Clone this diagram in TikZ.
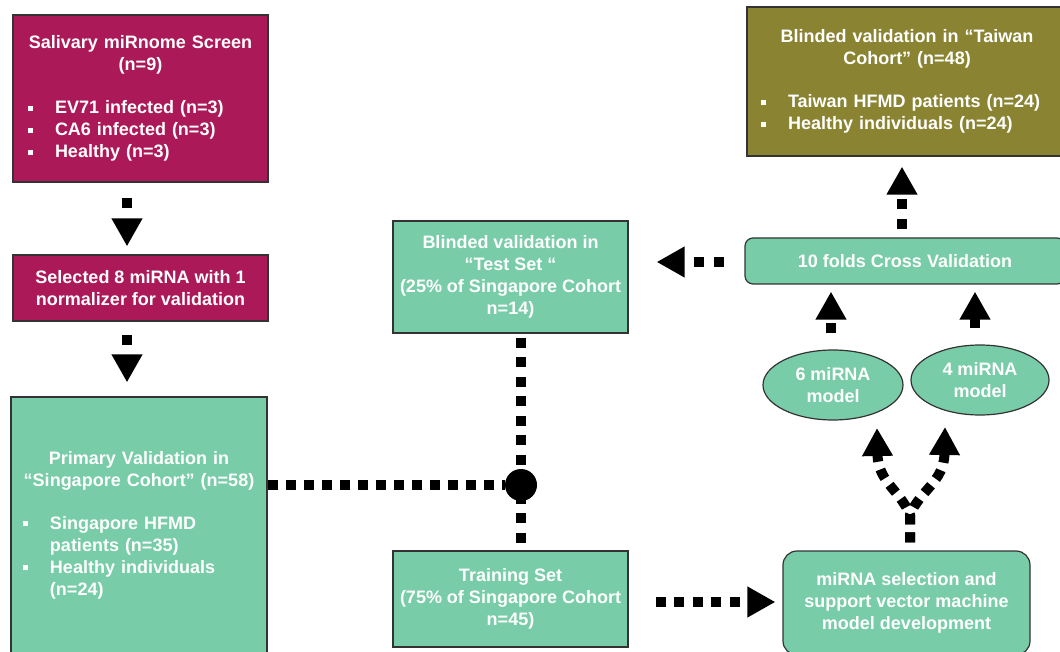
\documentclass[tikz,border=0pt]{standalone}
\usepackage{fontspec}
\setmainfont{Liberation Sans}
\usetikzlibrary{arrows.meta,shapes.geometric,calc}
\definecolor{magbox}{RGB}{172,25,88}
\definecolor{tealbox}{RGB}{120,204,168}
\definecolor{olivebox}{RGB}{138,132,50}
\newcommand\bitem[1]{\par\parskip=0pt\noindent\hangindent=27pt\hangafter=1\makebox[27pt][l]{\rule[3pt]{5pt}{5pt}}#1\par}
\newcommand\boxhead[1]{\parskip=0pt\parindent=0pt{\centering #1\par}\vspace{21pt}}
\begin{document}
\begin{tikzpicture}[x=1pt,y=-1pt,
  box/.style={draw=black!80, line width=1.2pt, text=white,
    font=\fontsize{18}{22}\selectfont\bfseries, inner sep=0pt, anchor=center},
  dotarrow/.style={line width=10pt, dash pattern=on 10pt off 8pt,
    -{Triangle[length=28pt,width=29pt]}},
  dotline/.style={line width=10pt, dash pattern=on 10pt off 8pt}]
\useasboundingbox (0,0) rectangle (1060,652);

% boxes
\node[box, fill=magbox, minimum width=255pt, minimum height=167pt, text width=225pt, align=left]
  (sal) at (140.5,98.5) {\boxhead{Salivary miRnome Screen\\(n=9)}\bitem{EV71 infected (n=3)}\bitem{CA6 infected (n=3)}\bitem{Healthy (n=3)}};
\node[box, fill=magbox, minimum width=255pt, minimum height=66pt, align=center]
  (sel) at (140.5,288) {Selected 8 miRNA with 1\\normalizer for validation};
\node[box, fill=tealbox, minimum width=256pt, minimum height=256pt, text width=232pt, align=left]
  (pri) at (139,525) {\boxhead{Primary Validation in\\“Singapore Cohort” (n=58)}\bitem{Singapore HFMD\break patients (n=35)}\bitem{Healthy individuals\break (n=24)}};
\node[box, fill=tealbox, minimum width=235pt, minimum height=112pt, align=center]
  (test) at (510.5,277) {Blinded validation in\\“Test Set “\\(25\% of Singapore Cohort\\n=14)};
\node[box, fill=tealbox, minimum width=235pt, minimum height=96pt, align=center]
  (train) at (510.5,599) {Training Set\\(75\% of Singapore Cohort\\n=45)};
\node[box, fill=tealbox, rounded corners=14pt, minimum width=247pt, minimum height=104pt, align=center]
  (svm) at (906.5,603) {miRNA selection and\\support vector machine\\model development};
\node[box, fill=tealbox, rounded corners=8pt, minimum width=320pt, minimum height=46pt]
  (folds) at (905,261) {10 folds Cross Validation};
\node[box, fill=olivebox, minimum width=320pt, minimum height=149pt, text width=292pt, align=left]
  (tw) at (907,81.5) {\boxhead{Blinded validation in “Taiwan\\Cohort” (n=48)}\bitem{Taiwan HFMD patients (n=24)}\bitem{Healthy individuals (n=24)}};
\node[box, fill=tealbox, ellipse, minimum width=140pt, minimum height=70pt, align=center]
  (e6) at (833,385) {6 miRNA\\model};
\node[box, fill=tealbox, ellipse, minimum width=138pt, minimum height=70pt, align=center]
  (e4) at (980,380) {4 miRNA\\model};
\node[circle, fill=black, minimum size=32pt, inner sep=0pt] (jn) at (521,485) {};

% helper coordinates
\coordinate (ax) at (127,0);
\coordinate (vx) at (521,0);
\coordinate (ay) at (0,602);
\coordinate (fy) at (0,262);
\coordinate (a4) at (975,0);
\coordinate (a6) at (831,0);
\coordinate (tx) at (902,0);
\coordinate (br) at (910,515);
\coordinate (t6) at (877,428);
\coordinate (t4) at (945,427);

% connectors
\draw[dotarrow, dash pattern=on 10pt off 12pt, shorten <=15pt, shorten >=8pt] (sal.south -| ax) -- (sel.north -| ax);
\draw[dotarrow, dash pattern=on 10pt off 12pt, shorten <=13pt, shorten >=14pt] (sel.south -| ax) -- (pri.north -| ax);
\draw[dotline] (pri.east |- jn) -- (jn.west);
\draw[dotline, dash pattern=on 10pt off 9.5pt, shorten <=4pt] (test.south -| vx) -- (train.north -| vx);
\draw[dotarrow, dash pattern=on 10pt off 8.6pt, shorten <=27pt, shorten >=7pt] (train.east |- ay) -- (svm.west |- ay);
\draw[dotarrow, dash pattern=on 10pt off 10.5pt, shorten <=20pt, shorten >=28pt] (folds.west |- fy) -- (test.east |- fy);
\draw[dotarrow, dash pattern=on 10pt off 12pt, shorten <=16pt, shorten >=7pt] (e6.north -| a6) -- (folds.south -| a6);
\draw[dotarrow, dash pattern=on 10pt off 12pt, shorten <=16pt, shorten >=7pt] (e4.north -| a4) -- (folds.south -| a4);
\draw[dotarrow, dash pattern=on 10pt off 10pt, shorten <=8pt, shorten >=10pt] (folds.north -| tx) -- (tw.south -| tx);
\draw[dotarrow, shorten <=8pt] (svm.north -| br) -- (br) .. controls (900,490) and (878,482) .. (t6);
\draw[dotarrow, shorten <=8pt] (svm.north -| br) -- (br) .. controls (920,490) and (944,482) .. (t4);
\end{tikzpicture}
\end{document}
